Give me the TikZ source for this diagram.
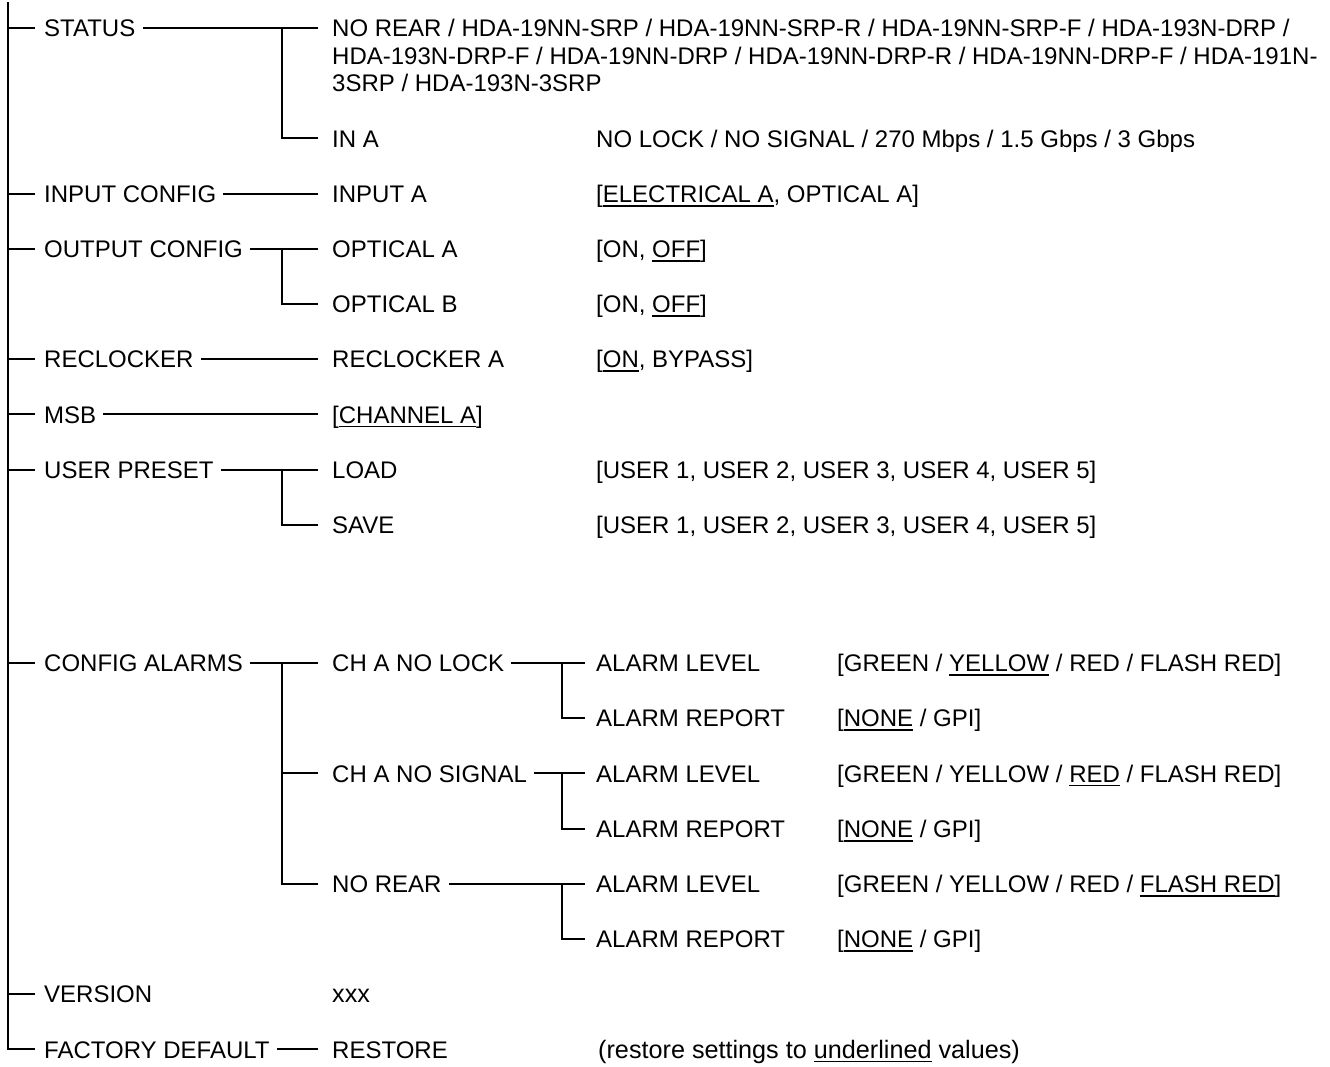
\documentclass[tikz,border=0pt]{standalone}
\usepackage{fontspec}
\setmainfont{Liberation Sans}
\newsavebox\ulbox
\newcommand\myul[1]{\sbox\ulbox{#1}\rlap{\rule[-4.4pt]{\wd\ulbox}{1.8pt}}\usebox\ulbox}
\begin{document}
\begin{tikzpicture}[x=1pt,y=-1pt,
  font=\fontsize{24}{27.5}\selectfont,
  lbl/.style={inner sep=0pt, anchor=west, text height=17.2pt, text depth=0pt},
  conn/.style={line width=1.9pt}]
\useasboundingbox[fill=white] (0,0) rectangle (1330,1066);
\coordinate (top) at (8,2);
\coordinate (J1) at (282,0);
\coordinate (J2) at (562,0);
\coordinate (E2) at (318,0);
\coordinate (E3) at (585,0);

% level 1
\node[lbl] (status)  at (44,28)     {STATUS};
\node[lbl] (inconf)  at (44,193.6)  {INPUT CONFIG};
\node[lbl] (outconf) at (44,248.8)  {OUTPUT CONFIG};
\node[lbl] (reclk)   at (44,359.2)  {RECLOCKER};
\node[lbl] (msb)     at (44,414.4)  {MSB};
\node[lbl] (preset)  at (44,469.6)  {USER PRESET};
\node[lbl] (alarms)  at (44,663)    {CONFIG ALARMS};
\node[lbl] (version) at (44,994.2)  {VERSION};
\node[lbl] (factory) at (44,1049.4) {FACTORY DEFAULT};

% level 2
\node[inner sep=0pt, anchor=north west, align=left] (rear) at (332,19.2)
  {NO REAR / HDA-19NN-SRP / HDA-19NN-SRP-R / HDA-19NN-SRP-F / HDA-193N-DRP /\\
   HDA-193N-DRP-F / HDA-19NN-DRP / HDA-19NN-DRP-R / HDA-19NN-DRP-F / HDA-191N-\\
   3SRP / HDA-193N-3SRP};
\node[lbl] (ina)     at (332,138.4) {IN A};
\node[lbl] (inputa)  at (332,193.6) {INPUT A};
\node[lbl] (opta)    at (332,248.8) {OPTICAL A};
\node[lbl] (optb)    at (332,304)   {OPTICAL B};
\node[lbl] (reclka)  at (332,359.2) {RECLOCKER A};
\node[lbl] (msbv)    at (332,414.4) {[\myul{CHANNEL A}]};
\node[lbl] (load)    at (332,469.6) {LOAD};
\node[lbl] (save)    at (332,524.8) {SAVE};
\node[lbl] (nolock)  at (332,663)   {CH A NO LOCK};
\node[lbl] (nosig)   at (332,773.4) {CH A NO SIGNAL};
\node[lbl] (norear)  at (332,883.8) {NO REAR};
\node[lbl] (xxx)     at (332,994.2) {\fontsize{25.2}{27.5}\selectfont xxx};
\node[lbl] (restore) at (332,1049.4) {RESTORE};

% level 3 values
\node[lbl] (inav)    at (596,138.4) {NO LOCK / NO SIGNAL / 270 Mbps / 1.5 Gbps / 3 Gbps};
\node[lbl] (inputav) at (596,193.6) {[\myul{ELECTRICAL A}, OPTICAL A]};
\node[lbl] (optav)   at (596,248.8) {[ON, \myul{OFF}]};
\node[lbl] (optbv)   at (596,304)   {[ON, \myul{OFF}]};
\node[lbl] (reclkav) at (596,359.2) {[\myul{ON}, BYPASS]};
\node[lbl] (loadv)   at (596,469.6) {[USER 1, USER 2, USER 3, USER 4, USER 5]};
\node[lbl] (savev)   at (596,524.8) {[USER 1, USER 2, USER 3, USER 4, USER 5]};
\node[lbl] (lvl1)    at (596,663)   {ALARM LEVEL};
\node[lbl] (rep1)    at (596,718.2) {ALARM REPORT};
\node[lbl] (lvl2)    at (596,773.4) {ALARM LEVEL};
\node[lbl] (rep2)    at (596,828.6) {ALARM REPORT};
\node[lbl] (lvl3)    at (596,883.8) {ALARM LEVEL};
\node[lbl] (rep3)    at (596,939)   {ALARM REPORT};
\node[lbl] (note)    at (598,1049.4) {\fontsize{25.2}{27.5}\selectfont (restore settings to \myul{underlined} values)};

% level 4 values
\node[lbl] (lvl1v) at (837,663)   {[GREEN / \myul{YELLOW} / RED / FLASH RED]};
\node[lbl] (rep1v) at (837,718.2) {[\myul{NONE} / GPI]};
\node[lbl] (lvl2v) at (837,773.4) {[GREEN / YELLOW / \myul{RED} / FLASH RED]};
\node[lbl] (rep2v) at (837,828.6) {[\myul{NONE} / GPI]};
\node[lbl] (lvl3v) at (837,883.8) {[GREEN / YELLOW / RED / \myul{FLASH RED}]};
\node[lbl] (rep3v) at (837,939)   {[\myul{NONE} / GPI]};

% trunk
\draw[conn] (top) |- ([xshift=-9pt]factory.west);
\foreach \n in {status,inconf,outconf,reclk,msb,preset,alarms,version}
  \draw[conn] (top |- \n.west) -- ([xshift=-9pt]\n.west);

% level 1 -> level 2
\foreach \n in {status,inconf,outconf,reclk,msb,preset,alarms,factory}
  \draw[conn] ([xshift=7pt]\n.east) -- (\n.east -| E2);
\draw[conn] (status.east -| J1) |- (ina.west -| E2);
\draw[conn] (outconf.east -| J1) |- (optb.west -| E2);
\draw[conn] (preset.east -| J1) |- (save.west -| E2);
\draw[conn] (alarms.east -| J1) |- (norear.west -| E2);
\draw[conn] (nosig.west -| J1) -- (nosig.west -| E2);

% level 2 -> level 3
\foreach \n/\r in {nolock/rep1,nosig/rep2,norear/rep3}{
  \draw[conn] ([xshift=7pt]\n.east) -- (\n.east -| E3);
  \draw[conn] (\n.east -| J2) |- (\r.west -| E3);
}
\end{tikzpicture}
\end{document}
